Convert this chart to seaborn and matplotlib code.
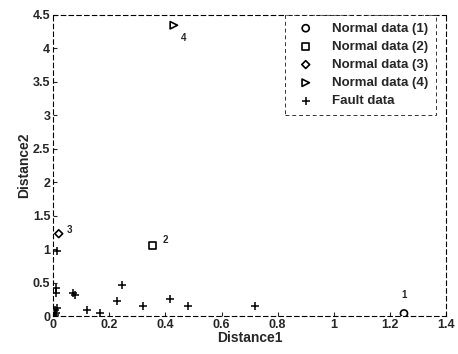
import numpy as np
import pandas as pd
import seaborn as sns
import matplotlib
matplotlib.use("Agg")
import matplotlib.pyplot as plt

# normal data points (one per class) and their labels
normal_x = [1.25, 0.355, 0.02, 0.43]
normal_y = [0.04, 1.06, 1.23, 4.34]
normal_names = ['Normal data (1)', 'Normal data (2)', 'Normal data (3)', 'Normal data (4)']
normal_tags = ['1', '2', '3', '4']

# fault data
fault_x = [0.014, 0.01, 0.012, 0.008, 0.01, 0.005, 0.015, 0.077, 0.07, 0.12, 0.167,
           0.247, 0.226, 0.32, 0.415, 0.48, 0.72]
fault_y = [0.97, 0.42, 0.34, 0.09, 0.04, 0.02, 0.12, 0.31, 0.35, 0.09, 0.04,
           0.47, 0.23, 0.15, 0.25, 0.15, 0.15]

x_ticks = [0, 0.2, 0.4, 0.6, 0.8, 1, 1.2, 1.4]
x_ticklabels = ['0', '0.2', '0.4', '0.6', '0.8', '1', '1.2', '1.4']
y_ticks = [0, 0.5, 1, 1.5, 2, 2.5, 3, 3.5, 4, 4.5]
y_ticklabels = ['0', '0.5', '1', '1.5', '2', '2.5', '3', '3.5', '4', '4.5']

sns.set_style("ticks")
plt.rcParams['font.family'] = ['Liberation Sans', 'DejaVu Sans']
plt.rcParams['font.weight'] = 'bold'

fig = plt.figure(figsize=(4.58, 3.54), dpi=100)
ax = fig.add_axes([0.116, 0.107, 0.858, 0.852])

markers = ['o', 's', 'D', '>']
sizes = [26, 26, 16, 28]
for i in range(4):
    df = pd.DataFrame({'x': [normal_x[i]], 'y': [normal_y[i]]})
    sns.scatterplot(data=df, x='x', y='y', marker=markers[i], s=sizes[i],
                    facecolor='none', edgecolor='black', linewidth=1.2,
                    label=normal_names[i], ax=ax)

fdf = pd.DataFrame({'x': fault_x, 'y': fault_y})
sns.scatterplot(data=fdf, x='x', y='y', marker='+', s=40, color='black',
                linewidth=1.1, label='Fault data', ax=ax)

# point tags
offsets = [(0, 13), (7, 4), (6, 3), (5, -9)]
for i in range(4):
    ax.annotate(normal_tags[i], (normal_x[i], normal_y[i]), xytext=offsets[i],
                textcoords='offset points', fontsize=7, fontweight='bold',
                ha='center' if i == 0 else 'left', va='center')

ax.set_xlim(0, 1.4)
ax.set_ylim(0, 4.5)
ax.set_xticks(x_ticks)
ax.set_xticklabels(x_ticklabels)
ax.set_yticks(y_ticks)
ax.set_yticklabels(y_ticklabels)
ax.tick_params(direction='in', length=3, labelsize=9, pad=2)
for sp in ax.spines.values():
    sp.set_linestyle((0, (4, 3)))
    sp.set_linewidth(0.8)
    sp.set_color('black')

ax.set_xlabel('Distance1', fontsize=10, fontweight='bold', labelpad=0)
ax.set_ylabel('Distance2', fontsize=10, fontweight='bold', labelpad=1)

leg = ax.legend(loc='upper right', bbox_to_anchor=(0.975, 1.0), fontsize=9.5,
                frameon=True, fancybox=False, borderaxespad=0.0,
                handletextpad=1.0, labelspacing=0.45, borderpad=0.6,
                edgecolor='black')
leg.get_frame().set_linestyle((0, (4, 3)))
leg.get_frame().set_linewidth(0.7)

fig.savefig('out.png', dpi=100)
